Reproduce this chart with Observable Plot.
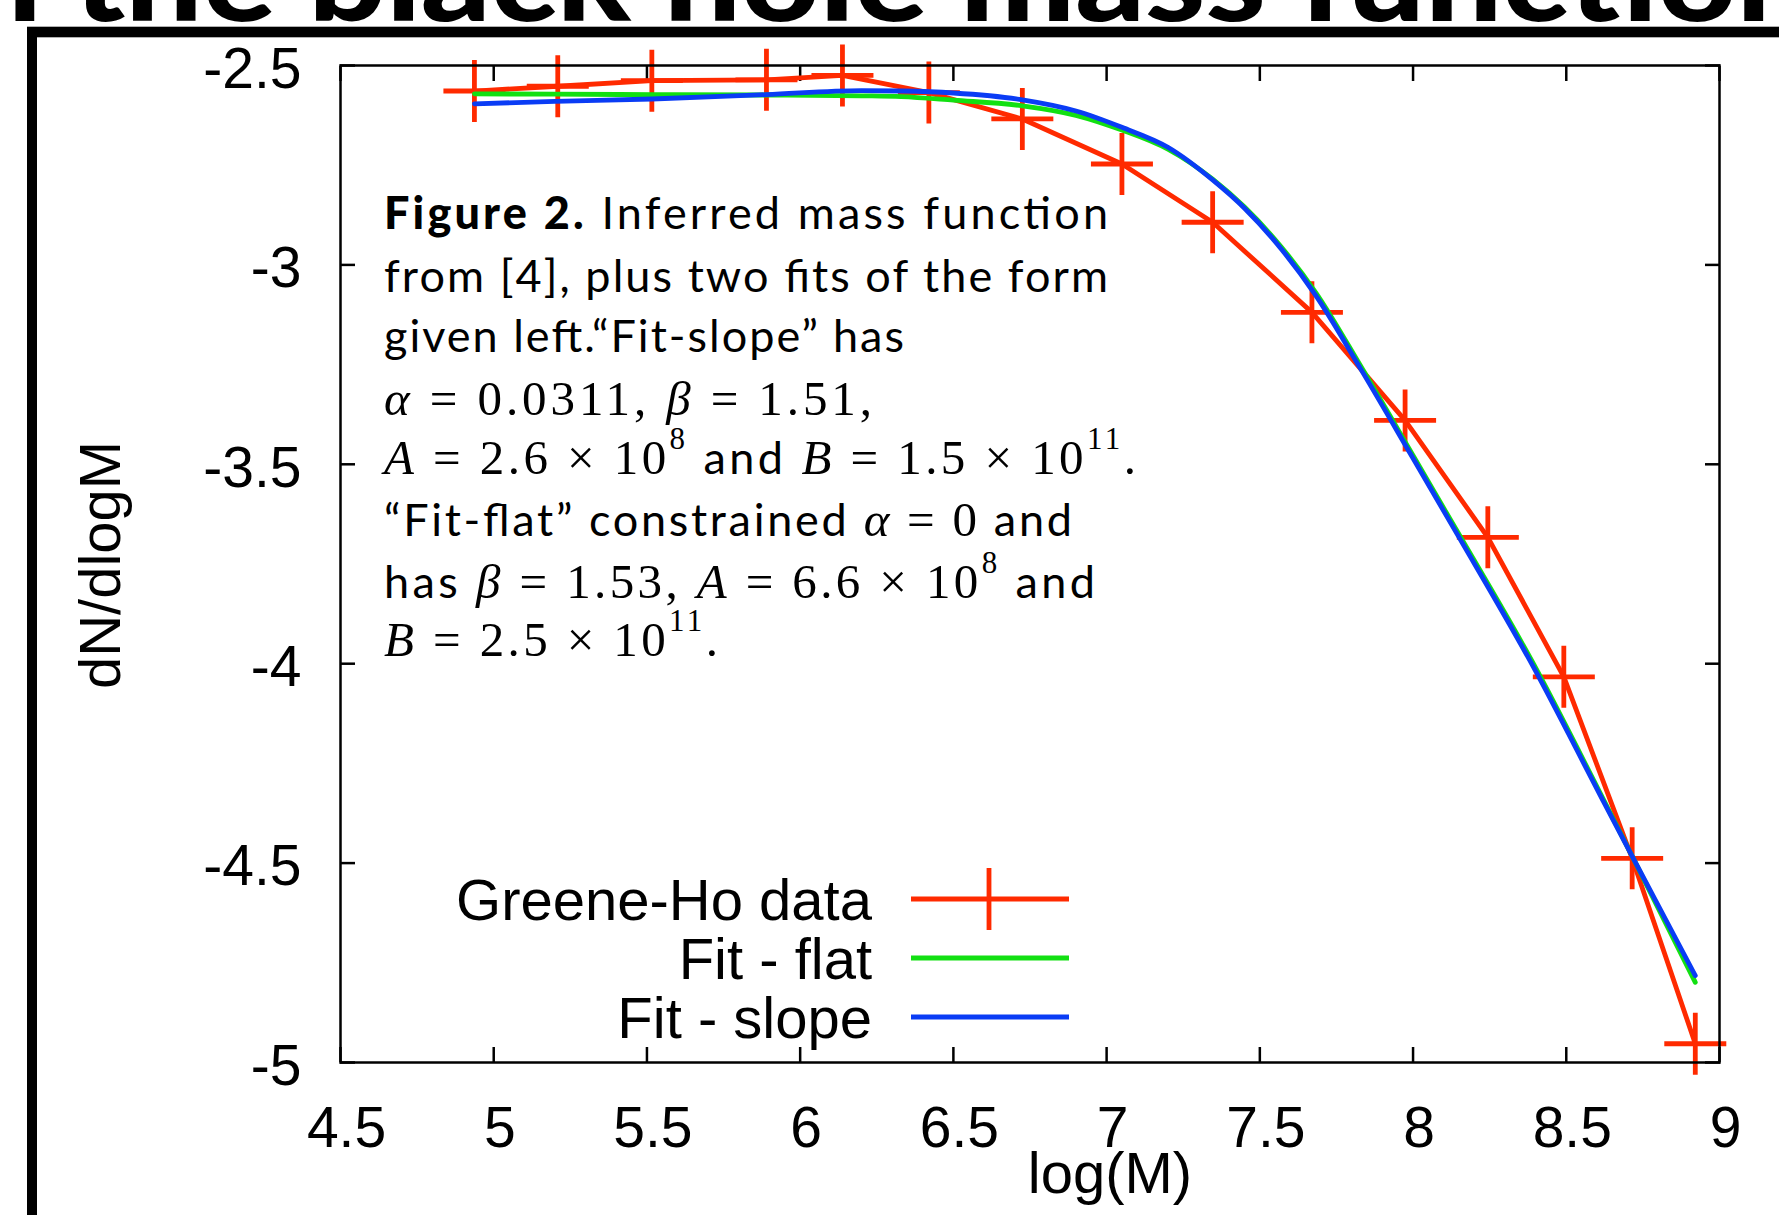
<!DOCTYPE html>
<html><head><meta charset="utf-8">
<script src="https://cdn.jsdelivr.net/npm/d3@7"></script>
<script src="https://cdn.jsdelivr.net/npm/@observablehq/plot@0.6"></script>
<style>
html,body{margin:0;padding:0;background:#fff;overflow:hidden;}
#chart{position:relative;width:1779px;height:1215px;}
</style></head><body><div id="chart"></div>
<script>
// ---- data ----
const logM    = [4.937, 5.209, 5.516, 5.890, 6.138, 6.420, 6.725, 7.050, 7.346, 7.670, 7.974, 8.244, 8.492, 8.715, 8.921];
const dNdlogM = [-2.564, -2.552, -2.538, -2.536, -2.525, -2.568, -2.634, -2.747, -2.893, -3.119, -3.390, -3.683, -4.033, -4.488, -4.953];

const fitLogM  = [4.937, 5.2, 5.516, 5.89, 6.2, 6.33, 6.5, 6.725, 6.9, 7.05, 7.2, 7.346, 7.45, 7.57, 7.683, 7.83, 8.0, 8.144, 8.394, 8.611, 8.72, 8.921];
const fitFlat  = [-2.571, -2.572, -2.573, -2.574, -2.576, -2.578, -2.587, -2.601, -2.625, -2.662, -2.710, -2.785, -2.855, -2.955, -3.070, -3.255, -3.478, -3.668, -4.002, -4.325, -4.490, -4.799];
const fitSlope = [-2.596, -2.590, -2.584, -2.573, -2.563, -2.564, -2.569, -2.586, -2.614, -2.655, -2.705, -2.787, -2.858, -2.960, -3.077, -3.262, -3.485, -3.675, -4.010, -4.330, -4.490, -4.782];

const xTicks = [4.5, 5, 5.5, 6, 6.5, 7, 7.5, 8, 8.5, 9];
const yTicks = [-5, -4.5, -4, -3.5, -3, -2.5];

const seriesNames  = ["Greene-Ho data", "Fit - flat", "Fit - slope"];
const seriesColors = ["#ff2a00", "#12e012", "#0a3cf5"];

const xLabel = "log(M)";
const yLabel = "dN/dlogM";
const titleText = "n the black hole mass function";

// ---- build ----
const points = logM.map((x, i) => ({x, y: dNdlogM[i]}));
const fits = fitLogM.map((x, i) => ({x, flat: fitFlat[i], slope: fitSlope[i]}));

const plusSymbol = {
  draw(ctx, size) {
    const r = Math.sqrt(size / Math.PI);
    ctx.moveTo(-r, 0); ctx.lineTo(r, 0);
    ctx.moveTo(0, -r); ctx.lineTo(0, r);
  }
};

const sans = "'Liberation Sans', Arial, Helvetica, sans-serif";
const fmt = d => String(d);

const plot = Plot.plot({
  width: 1779,
  height: 1215,
  marginLeft: 340,
  marginRight: 60,
  marginTop: 65,
  marginBottom: 153,
  x: {domain: [4.5, 9]},
  y: {domain: [-5, -2.5]},
  style: {background: "white", fontFamily: sans, fontSize: "57px", color: "black", overflow: "visible"},
  marks: [
    // inward ticks on all four sides
    Plot.axisX({ticks: xTicks, anchor: "bottom", tickSize: 15, dy: -15, tickFormat: () => "", strokeWidth: 2.5, label: null}),
    Plot.axisX({ticks: xTicks, anchor: "top", tickSize: 15, dy: 15, tickFormat: () => "", strokeWidth: 2.5, label: null}),
    Plot.axisY({ticks: yTicks, anchor: "left", tickSize: 15, dx: 15, tickFormat: () => "", strokeWidth: 2.5, label: null}),
    Plot.axisY({ticks: yTicks, anchor: "right", tickSize: 15, dx: -15, tickFormat: () => "", strokeWidth: 2.5, label: null}),
    // tick labels
    Plot.axisX({ticks: xTicks, anchor: "bottom", tickSize: 0, tickPadding: 44, dx: 6, tickFormat: fmt, fontSize: 57, label: null}),
    Plot.axisY({ticks: yTicks, anchor: "left", tickSize: 0, tickPadding: 39, dy: 4, tickFormat: fmt, fontSize: 57, label: null}),
    // data
    Plot.line(points, {x: "x", y: "y", stroke: seriesColors[0], strokeWidth: 4.8}),
    Plot.dot(points, {x: "x", y: "y", symbol: plusSymbol, r: 31, stroke: seriesColors[0], strokeWidth: 4.8, fill: "none"}),
    Plot.line(fits, {x: "x", y: "flat", stroke: seriesColors[1], strokeWidth: 4.8, curve: "monotone-x"}),
    Plot.line(fits, {x: "x", y: "slope", stroke: seriesColors[2], strokeWidth: 4.8, curve: "monotone-x"}),
    Plot.frame({stroke: "black", strokeWidth: 2.5})
  ]
});

document.getElementById("chart").appendChild(plot);

// ---- overlays: slide frame, title, axis labels, caption, legend ----
const svg = d3.select(plot);
const g = svg.append("g").attr("text-anchor", "start");

// slide title (cut off at the top of the picture)
g.append("text")
  .attr("x", -36).attr("y", 21)
  .attr("text-anchor", "start")
  .attr("textLength", 1850).attr("lengthAdjust", "spacingAndGlyphs")
  .style("font-family", "Lato, 'Open Sans', sans-serif")
  .style("font-weight", 900)
  .style("font-size", "120px")
  .attr("fill", "black")
  .text(titleText);

// slide frame
g.append("rect").attr("x", 0).attr("y", 22).attr("width", 1779).attr("height", 5).attr("fill", "white");
g.append("rect").attr("x", 27).attr("y", 26).attr("width", 1779 - 27).attr("height", 1).attr("fill", "#b0b0b0");
g.append("rect").attr("x", 27).attr("y", 27).attr("width", 1779 - 27).attr("height", 10).attr("fill", "black");
g.append("rect").attr("x", 27).attr("y", 27).attr("width", 10).attr("height", 1215 - 27).attr("fill", "black");
g.append("rect").attr("x", 37).attr("y", 37).attr("width", 1779 - 37).attr("height", 1).attr("fill", "#b0b0b0");

// axis labels
g.append("text")
  .attr("x", 1110).attr("y", 1193)
  .attr("text-anchor", "middle")
  .style("font-family", sans).style("font-size", "58px")
  .text(xLabel);
g.append("text")
  .attr("transform", "translate(120,565) rotate(-90)")
  .attr("text-anchor", "middle")
  .style("font-family", sans).style("font-size", "58px")
  .text(yLabel);

// caption block
const capSans = "Lato, 'Open Sans', sans-serif";
const capMath = "'Liberation Serif', 'DejaVu Serif', serif";
const caption = [
  {y: 229, w: 724, parts: [["Figure 2.", "b"], [" Inferred mass function", "s"]]},
  {y: 291.5, w: 724, parts: [["from [4], plus two fits of the form", "s"]]},
  {y: 351.5, w: 520, parts: [["given left.\u201CFit-slope\u201D has", "s"]]},
  {y: 415, w: 488, parts: [["\u03B1", "i"], [" = 0.0311, ", "m"], ["\u03B2", "i"], [" = 1.51,", "m"]]},
  {y: 474, w: 752, parts: [["A", "i"], [" = 2.6 \u00D7 10", "m"], ["8", "sup"], [" and ", "s"], ["B", "i"], [" = 1.5 \u00D7 10", "m"], ["11", "sup"], [".", "m"]]},
  {y: 535.5, w: 688, parts: [["\u201CFit-flat\u201D constrained ", "s"], ["\u03B1", "i"], [" = 0", "m"], [" and", "s"]]},
  {y: 598, w: 711, parts: [["has ", "s"], ["\u03B2", "i"], [" = 1.53, ", "m"], ["A", "i"], [" = 6.6 \u00D7 10", "m"], ["8", "sup"], [" and", "s"]]},
  {y: 656, w: 334, parts: [["B", "i"], [" = 2.5 \u00D7 10", "m"], ["11", "sup"], [".", "m"]]}
];
const capG = g.append("g");
caption.forEach(line => {
  const t = capG.append("text").attr("x", 384).attr("y", line.y)
    .attr("text-anchor", "start")
    .attr("textLength", line.w).attr("lengthAdjust", "spacing")
    .attr("fill", "black");
  let shifted = false;
  line.parts.forEach(([txt, kind]) => {
    const s = t.append("tspan").text(txt);
    if (kind === "sup") {
      s.attr("dy", -25).style("font-family", capMath).style("font-size", "31px");
      shifted = true;
    } else {
      if (shifted) { s.attr("dy", 25); shifted = false; }
      if (kind === "b") s.style("font-family", capSans).style("font-weight", 900).style("font-size", "45px");
      else if (kind === "s") s.style("font-family", capSans).style("font-weight", 400).style("font-size", "45px");
      else if (kind === "i") s.style("font-family", capMath).style("font-style", "italic").style("font-size", "49px");
      else s.style("font-family", capMath).style("font-size", "49px");
    }
  });
});

// legend
const legG = g.append("g");
seriesNames.forEach((name, i) => {
  const ly = 899 + i * 59;
  legG.append("text").attr("x", 872).attr("y", ly + 21)
    .attr("text-anchor", "end")
    .style("font-family", sans).style("font-size", "58px")
    .text(name);
  legG.append("line").attr("x1", 911).attr("x2", 1069).attr("y1", ly).attr("y2", ly)
    .attr("stroke", seriesColors[i]).attr("stroke-width", 4.8);
  if (i === 0) {
    legG.append("line").attr("x1", 989).attr("x2", 989).attr("y1", ly - 31).attr("y2", ly + 31)
      .attr("stroke", seriesColors[i]).attr("stroke-width", 4.8);
  }
});
</script>
</body></html>
